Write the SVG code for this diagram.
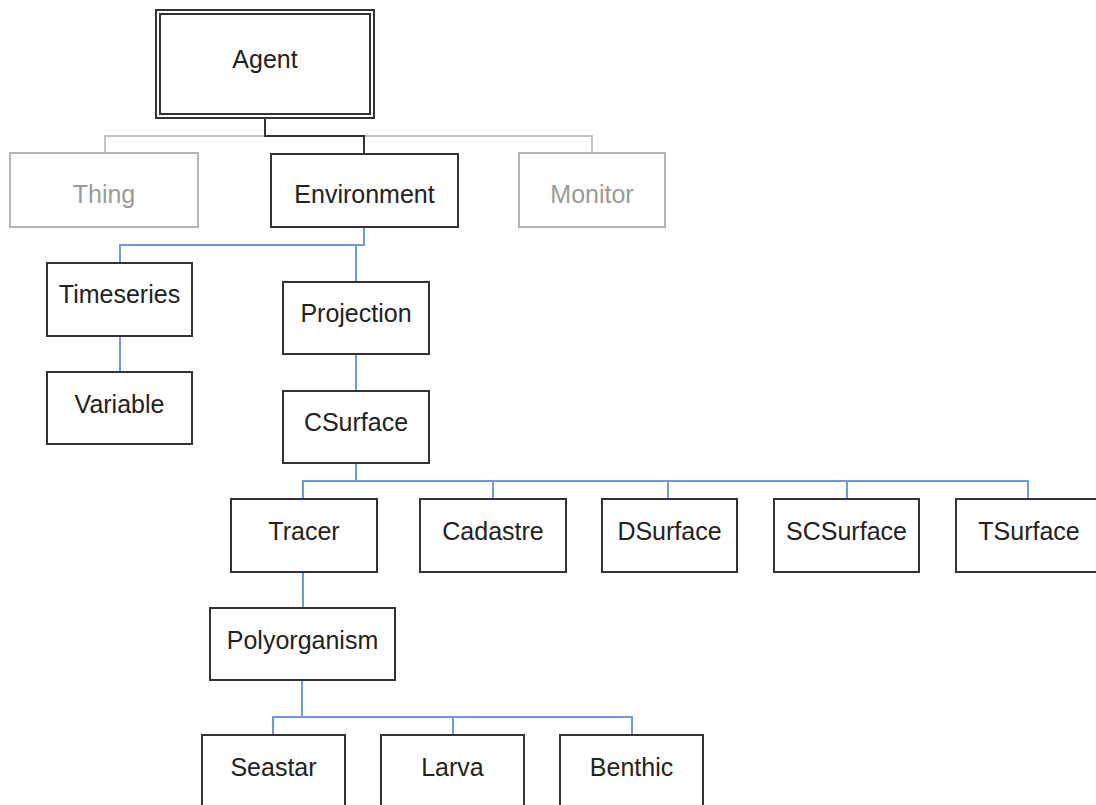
<svg xmlns="http://www.w3.org/2000/svg" width="1096" height="805" viewBox="0 0 1096 805">
  <style>
    .box { fill: #ffffff; stroke: #333333; stroke-width: 2; }
    .dim { fill: #ffffff; stroke: #b4b4b4; stroke-width: 2; }
    .lbl { font-family: "Liberation Sans", Arial, sans-serif; font-size: 25px; fill: #222222; text-anchor: middle; }
    .lbl-dim { fill: #9a9a9a; }
    .wire { fill: none; stroke: #6b9bd8; stroke-width: 2; }
    .wire-dark { fill: none; stroke: #333333; stroke-width: 2; }
    .wire-dim { fill: none; stroke: #c4c4c4; stroke-width: 2; }
  </style>
  <rect width="1096" height="805" fill="#ffffff"/>

  <!-- connectors -->
  <g id="connectors">
    <path class="wire-dim" d="M105 153 V136 H592 V153"/>
    <path class="wire-dark" d="M265 118 V136 H364 V154"/>
    <path class="wire" d="M364 228 V245 H120 V263 M356 245 V282"/>
    <path class="wire" d="M120 336 V372"/>
    <path class="wire" d="M356 354 V391"/>
    <path class="wire" d="M356 463 V481 M303 499 V481 H1028 V499 M493 481 V499 M668 481 V499 M847 481 V499"/>
    <path class="wire" d="M303 572 V608"/>
    <path class="wire" d="M302 680 V717 M273 735 V717 H632 V735 M453 717 V735"/>
  </g>

  <!-- nodes -->
  <g id="agent">
    <rect class="box" x="156" y="10" width="218" height="108"/>
    <rect class="box" x="160" y="14" width="210" height="100"/>
    <text class="lbl" x="265" y="68">Agent</text>
  </g>
  <g id="thing">
    <rect class="dim" x="10" y="153" width="188" height="74"/>
    <text class="lbl lbl-dim" x="104" y="203">Thing</text>
  </g>
  <g id="environment">
    <rect class="box" x="271" y="154" width="187" height="73"/>
    <text class="lbl" x="364.5" y="203">Environment</text>
  </g>
  <g id="monitor">
    <rect class="dim" x="519" y="153" width="146" height="74"/>
    <text class="lbl lbl-dim" x="592" y="203">Monitor</text>
  </g>
  <g id="timeseries">
    <rect class="box" x="47" y="263" width="145" height="73"/>
    <text class="lbl" x="119.5" y="303">Timeseries</text>
  </g>
  <g id="variable">
    <rect class="box" x="47" y="372" width="145" height="72"/>
    <text class="lbl" x="119.5" y="413">Variable</text>
  </g>
  <g id="projection">
    <rect class="box" x="283" y="282" width="146" height="72"/>
    <text class="lbl" x="356" y="322">Projection</text>
  </g>
  <g id="csurface">
    <rect class="box" x="283" y="391" width="146" height="72"/>
    <text class="lbl" x="356" y="431">CSurface</text>
  </g>
  <g id="tracer">
    <rect class="box" x="231" y="499" width="146" height="73"/>
    <text class="lbl" x="304" y="540">Tracer</text>
  </g>
  <g id="cadastre">
    <rect class="box" x="420" y="499" width="146" height="73"/>
    <text class="lbl" x="493" y="540">Cadastre</text>
  </g>
  <g id="dsurface">
    <rect class="box" x="602" y="499" width="135" height="73"/>
    <text class="lbl" x="669.5" y="540">DSurface</text>
  </g>
  <g id="scsurface">
    <rect class="box" x="774" y="499" width="145" height="73"/>
    <text class="lbl" x="846.5" y="540">SCSurface</text>
  </g>
  <g id="tsurface">
    <rect class="box" x="956" y="499" width="146" height="73"/>
    <text class="lbl" x="1029" y="540">TSurface</text>
  </g>
  <g id="polyorganism">
    <rect class="box" x="210" y="608" width="185" height="72"/>
    <text class="lbl" x="302.5" y="649">Polyorganism</text>
  </g>
  <g id="seastar">
    <rect class="box" x="202" y="735" width="143" height="73"/>
    <text class="lbl" x="273.5" y="776">Seastar</text>
  </g>
  <g id="larva">
    <rect class="box" x="381" y="735" width="143" height="73"/>
    <text class="lbl" x="452.5" y="776">Larva</text>
  </g>
  <g id="benthic">
    <rect class="box" x="560" y="735" width="143" height="73"/>
    <text class="lbl" x="631.5" y="776">Benthic</text>
  </g>
</svg>
